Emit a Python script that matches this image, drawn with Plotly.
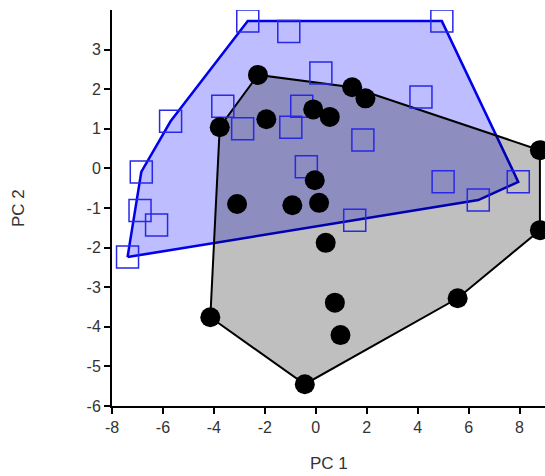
import plotly.graph_objects as go

# PCA scores, group A (open squares)
a_pc1 = [-2.67, -1.06, 4.95, 0.20, -3.65, -5.70, -2.87, -0.98, -0.55, 4.13,
         1.85, -0.37, -6.85, -6.90, -6.25, -7.39, 1.53, 5.00, 6.38, 7.95]
a_pc2 = [3.72, 3.46, 3.72, 2.41, 1.57, 1.19, 1.00, 1.04, 1.57, 1.80,
         0.72, 0.04, -0.09, -1.06, -1.43, -2.24, -1.31, -0.34, -0.80, -0.34]

# PCA scores, group B (filled circles)
b_pc1 = [-2.27, -3.77, -1.94, -3.09, 1.43, 1.95, -0.10, 0.55, -0.04, -0.92,
         0.13, 0.39, 0.75, 0.97, -0.43, -4.14, 5.57, 8.80, 8.80]
b_pc2 = [2.36, 1.04, 1.24, -0.90, 2.05, 1.77, 1.49, 1.30, -0.30, -0.93,
         -0.87, -1.88, -3.39, -4.21, -5.45, -3.76, -3.28, 0.46, -1.56]

x_ticks = [-8, -6, -4, -2, 0, 2, 4, 6, 8]
y_ticks = [-6, -5, -4, -3, -2, -1, 0, 1, 2, 3]
x_labels = ["-8", "-6", "-4", "-2", "0", "2", "4", "6", "8"]
y_labels = ["-6", "-5", "-4", "-3", "-2", "-1", "0", "1", "2", "3"]


def convex_hull(xs, ys):
    pts = sorted(set(zip(xs, ys)))

    def cross(o, a, b):
        return (a[0] - o[0]) * (b[1] - o[1]) - (a[1] - o[1]) * (b[0] - o[0])

    lower, upper = [], []
    for p in pts:
        while len(lower) >= 2 and cross(lower[-2], lower[-1], p) <= 0:
            lower.pop()
        lower.append(p)
    for p in reversed(pts):
        while len(upper) >= 2 and cross(upper[-2], upper[-1], p) <= 0:
            upper.pop()
        upper.append(p)
    hull = lower[:-1] + upper[:-1]
    hull.append(hull[0])
    return [p[0] for p in hull], [p[1] for p in hull]


hax, hay = convex_hull(a_pc1, a_pc2)
hbx, hby = convex_hull(b_pc1, b_pc2)

fig = go.Figure()

# hull areas
fig.add_trace(go.Scatter(x=hax, y=hay, mode="lines", fill="toself",
                         fillcolor="rgba(0,0,255,0.26)",
                         line=dict(color="rgb(0,0,235)", width=2.5),
                         hoverinfo="skip", showlegend=False))
fig.add_trace(go.Scatter(x=hbx, y=hby, mode="lines", fill="toself",
                         fillcolor="rgba(0,0,0,0.25)",
                         line=dict(color="black", width=2),
                         hoverinfo="skip", showlegend=False))

# points
fig.add_trace(go.Scatter(x=a_pc1, y=a_pc2, mode="markers",
                         marker=dict(symbol="square-open", size=22,
                                     color="rgb(40,40,230)",
                                     line=dict(width=1.5, color="rgb(40,40,230)")),
                         showlegend=False))
fig.add_trace(go.Scatter(x=b_pc1, y=b_pc2, mode="markers",
                         marker=dict(symbol="circle", size=20, color="black"),
                         showlegend=False))

tick_font = dict(family="Liberation Sans, Arial, sans-serif", size=16, color="#333")
title_font = dict(family="Liberation Sans, Arial, sans-serif", size=17, color="#333")

fig.update_layout(
    width=545, height=476,
    margin=dict(l=112, r=0, t=10, b=70),
    paper_bgcolor="white", plot_bgcolor="white",
    xaxis=dict(range=[-8, 9], tickvals=x_ticks, ticktext=x_labels,
               ticks="outside", ticklen=6, tickwidth=1.5, tickcolor="black",
               showline=True, linecolor="black", linewidth=2,
               showgrid=False, zeroline=False, tickfont=tick_font),
    yaxis=dict(range=[-6, 4], tickvals=y_ticks, ticktext=y_labels,
               ticks="outside", ticklen=6, tickwidth=1.5, tickcolor="black",
               showline=True, linecolor="black", linewidth=2,
               showgrid=False, zeroline=False, tickfont=tick_font),
    annotations=[
        dict(text="PC 1", xref="paper", yref="paper", x=0.5, y=-0.144,
             showarrow=False, font=title_font, xanchor="center", yanchor="middle"),
        dict(text="PC 2", xref="paper", yref="paper", x=-0.217, y=0.5,
             textangle=-90, showarrow=False, font=title_font,
             xanchor="center", yanchor="middle"),
    ],
)

fig.write_html("out.html")
